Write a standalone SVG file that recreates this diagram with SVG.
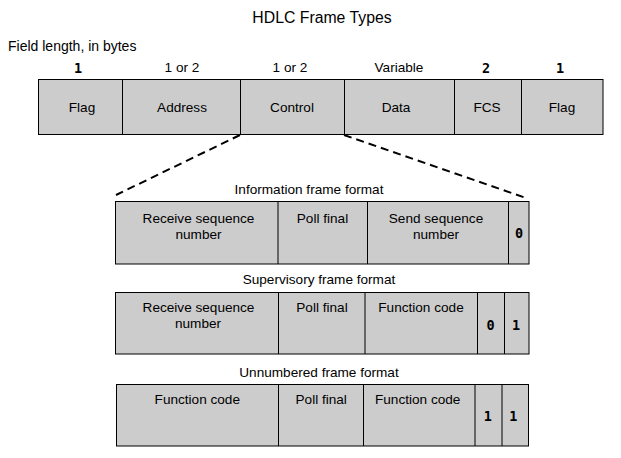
<svg xmlns="http://www.w3.org/2000/svg" width="621" height="458" viewBox="0 0 621 458">
<style>
text{font-family:"Liberation Sans",Arial,sans-serif;font-size:13.6px;fill:#000;text-anchor:middle}
.title{font-size:15.8px}
.lbl{text-anchor:start;font-size:14px}
.dig{font-family:"DejaVu Sans Mono","Liberation Mono",monospace;font-weight:bold;font-size:13.5px}
.box{fill:#cccccc;stroke:#000;stroke-width:1}
.div{stroke:#000;stroke-width:1}
.dash{stroke:#000;stroke-width:2;stroke-dasharray:8 5;fill:none}
</style>
<rect width="621" height="458" fill="#fff"/>
<text class="title" x="322" y="23">HDLC Frame Types</text>
<text class="lbl" x="8" y="51">Field length, in bytes</text>

<g id="frame">
<rect class="box" x="38.5" y="79.5" width="564.5" height="55"/>
<line class="div" x1="122.5" y1="79.5" x2="122.5" y2="134.5"/>
<line class="div" x1="240.5" y1="79.5" x2="240.5" y2="134.5"/>
<line class="div" x1="344.5" y1="79.5" x2="344.5" y2="134.5"/>
<line class="div" x1="454.5" y1="79.5" x2="454.5" y2="134.5"/>
<line class="div" x1="521.5" y1="79.5" x2="521.5" y2="134.5"/>
<text class="dig" x="78" y="73">1</text>
<text x="182" y="72">1 or 2</text>
<text x="290" y="72">1 or 2</text>
<text x="399" y="72">Variable</text>
<text class="dig" x="486" y="73">2</text>
<text class="dig" x="560" y="73">1</text>
<text x="82" y="112">Flag</text>
<text x="182" y="112">Address</text>
<text x="292" y="112">Control</text>
<text x="396" y="112">Data</text>
<text x="487" y="112">FCS</text>
<text x="562" y="112">Flag</text>
</g>

<g id="connectors">
<line class="dash" x1="240" y1="135" x2="116" y2="195"/>
<line class="dash" x1="344" y1="135" x2="526" y2="198"/>
</g>

<g id="info">
<text x="309" y="194">Information frame format</text>
<rect class="box" x="115.5" y="201.5" width="413.5" height="62.5"/>
<line class="div" x1="278" y1="201.5" x2="278" y2="264"/>
<line class="div" x1="367.5" y1="201.5" x2="367.5" y2="264"/>
<line class="div" x1="508.5" y1="201.5" x2="508.5" y2="264"/>
<text x="198.5" y="223">Receive sequence</text>
<text x="198.5" y="239">number</text>
<text x="322.5" y="223">Poll final</text>
<text x="436" y="223">Send sequence</text>
<text x="436" y="239">number</text>
<text class="dig" x="519" y="238">0</text>
</g>

<g id="supervisory">
<text x="319" y="284">Supervisory frame format</text>
<rect class="box" x="115.5" y="292.5" width="413.5" height="61.5"/>
<line class="div" x1="278.5" y1="292.5" x2="278.5" y2="354"/>
<line class="div" x1="365" y1="292.5" x2="365" y2="354"/>
<line class="div" x1="477.5" y1="292.5" x2="477.5" y2="354"/>
<line class="div" x1="504.5" y1="292.5" x2="504.5" y2="354"/>
<text x="198.5" y="312">Receive sequence</text>
<text x="198" y="328">number</text>
<text x="322" y="312">Poll final</text>
<text x="421" y="312">Function code</text>
<text class="dig" x="490.5" y="330">0</text>
<text class="dig" x="516" y="330">1</text>
</g>

<g id="unnumbered">
<text x="319" y="377">Unnumbered frame format</text>
<rect class="box" x="116.5" y="384.5" width="412" height="61.5"/>
<line class="div" x1="278.5" y1="384.5" x2="278.5" y2="446"/>
<line class="div" x1="363.5" y1="384.5" x2="363.5" y2="446"/>
<line class="div" x1="475" y1="384.5" x2="475" y2="446"/>
<line class="div" x1="502" y1="384.5" x2="502" y2="446"/>
<text x="197.3" y="404">Function code</text>
<text x="321.2" y="404">Poll final</text>
<text x="417.7" y="404">Function code</text>
<text class="dig" x="487.7" y="421">1</text>
<text class="dig" x="513.3" y="421">1</text>
</g>
</svg>
